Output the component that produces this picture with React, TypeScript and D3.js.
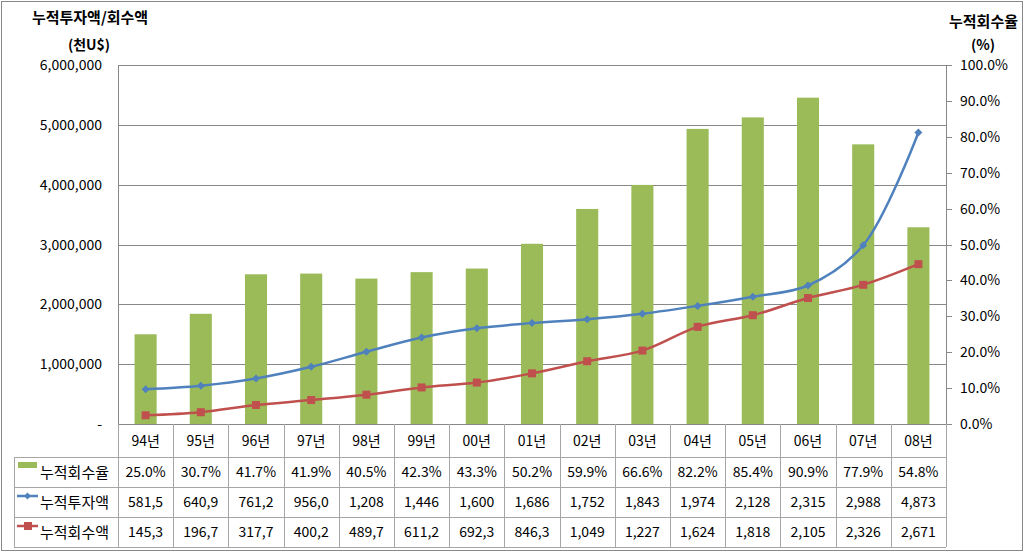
import React from "react";
import * as d3 from "d3";

const categories = ["94년", "95년", "96년", "97년", "98년", "99년", "00년", "01년", "02년", "03년", "04년", "05년", "06년", "07년", "08년"];
const recoveryRate = [25.0, 30.7, 41.7, 41.9, 40.5, 42.3, 43.3, 50.2, 59.9, 66.6, 82.2, 85.4, 90.9, 77.9, 54.8];
const investment = [581500, 640900, 761200, 956000, 1208000, 1446000, 1600000, 1686000, 1752000, 1843000, 1974000, 2128000, 2315000, 2988000, 4873000];
const recovered = [145300, 196700, 317700, 400200, 489700, 611200, 692300, 846300, 1049000, 1227000, 1624000, 1818000, 2105000, 2326000, 2671000];
const rateLabels = ["25.0%", "30.7%", "41.7%", "41.9%", "40.5%", "42.3%", "43.3%", "50.2%", "59.9%", "66.6%", "82.2%", "85.4%", "90.9%", "77.9%", "54.8%"];
const investLabels = ["581,5", "640,9", "761,2", "956,0", "1,208", "1,446", "1,600", "1,686", "1,752", "1,843", "1,974", "2,128", "2,315", "2,988", "4,873"];
const recoveredLabels = ["145,3", "196,7", "317,7", "400,2", "489,7", "611,2", "692,3", "846,3", "1,049", "1,227", "1,624", "1,818", "2,105", "2,326", "2,671"];
const leftTicks = [0, 1000000, 2000000, 3000000, 4000000, 5000000, 6000000];
const leftTickLabels = ["-", "1,000,000", "2,000,000", "3,000,000", "4,000,000", "5,000,000", "6,000,000"];
const rightTicks = [0, 10, 20, 30, 40, 50, 60, 70, 80, 90, 100];
const seriesNames = ["누적회수율", "누적투자액", "누적회수액"];

const FONT = "'Noto Sans CJK KR', 'Noto Sans', sans-serif";
const GREEN = "#9BBB59";
const BLUE = "#4F81BD";
const RED = "#C0504D";
const GRID = "#888888";
const TGRID = "#A6A6A6";

export default function App() {
  const W = 1024, H = 553;
  const left = 118, right = 946, top = 65, bottom = 424;
  const x = d3.scaleBand<string>().domain(categories).range([left, right]);
  const yL = d3.scaleLinear().domain([0, 6000000]).range([bottom, top]);
  const yR = d3.scaleLinear().domain([0, 100]).range([bottom, top]);
  const bw = x.bandwidth();
  const barW = bw * 0.4;
  const cx = (c: string) => (x(c) as number) + bw / 2;

  const line = d3
    .line<number>()
    .x((_, i) => cx(categories[i]))
    .y((d) => yL(d))
    .curve(d3.curveCatmullRom.alpha(0.5));

  const rowTops = [457, 487, 517];
  const rowH = 30;
  const tableLeft = 14;
  const tableBottom = 547;

  const diamond = (px: number, py: number, r: number) =>
    `M${px},${py - r}L${px + r},${py}L${px},${py + r}L${px - r},${py}Z`;

  return (
    <svg width={W} height={H} style={{ position: "absolute", left: 0, top: 0, background: "#fff" }} fontFamily={FONT}>
      <rect x={1.5} y={1.5} width={W - 3} height={H - 4} fill="#fff" stroke={GRID} strokeWidth={1} />

      {/* titles */}
      <text x={90} y={23} textAnchor="middle" fontSize={15} fontWeight="bold" fill="#000">누적투자액/회수액</text>
      <text x={89} y={50} textAnchor="middle" fontSize={14} fontWeight="bold" fill="#000">(천U$)</text>
      <text x={1018} y={27} textAnchor="end" fontSize={15} fontWeight="bold" fill="#000">누적회수율</text>
      <text x={983} y={50} textAnchor="middle" fontSize={14} fontWeight="bold" fill="#000">(%)</text>

      {/* gridlines */}
      {leftTicks.map((t) => (
        <line key={"g" + t} x1={left} x2={right} y1={Math.round(yL(t)) + 0.5} y2={Math.round(yL(t)) + 0.5} stroke={GRID} strokeWidth={1} />
      ))}
      {leftTicks.map((t, i) => (
        <text key={"lt" + t} x={102} y={yL(t) + 5} textAnchor="end" fontSize={14} fill="#000">{leftTickLabels[i]}</text>
      ))}
      {/* axes */}
      <line x1={left + 0.5} x2={left + 0.5} y1={top} y2={bottom} stroke={GRID} />
      <line x1={right + 0.5} x2={right + 0.5} y1={top} y2={bottom} stroke={GRID} />
      {rightTicks.map((t) => (
        <g key={"rt" + t}>
          <line x1={right} x2={right + 6} y1={Math.round(yR(t)) + 0.5} y2={Math.round(yR(t)) + 0.5} stroke={GRID} />
          <text x={960} y={yR(t) + 5} fontSize={14} fill="#000">{d3.format(".1f")(t)}%</text>
        </g>
      ))}

      {/* bars */}
      {recoveryRate.map((v, i) => (
        <rect key={"b" + i} x={cx(categories[i]) - barW / 2} y={yR(v)} width={barW} height={bottom - yR(v)} fill={GREEN} />
      ))}

      {/* lines */}
      <path d={line(investment) || ""} fill="none" stroke={BLUE} strokeWidth={2.5} />
      <path d={line(recovered) || ""} fill="none" stroke={RED} strokeWidth={2.5} />
      {investment.map((v, i) => (
        <path key={"d" + i} d={diamond(cx(categories[i]), yL(v), 4)} fill={BLUE} />
      ))}
      {recovered.map((v, i) => (
        <rect key={"s" + i} x={cx(categories[i]) - 4} y={yL(v) - 4} width={8} height={8} fill={RED} />
      ))}

      {/* data table */}
      <line x1={left} x2={right} y1={bottom + 0.5} y2={bottom + 0.5} stroke={GRID} />
      {[...categories.map((c) => x(c) as number), right].map((xx, i) => (
        <line key={"v" + i} x1={Math.round(xx) + 0.5} x2={Math.round(xx) + 0.5} y1={bottom} y2={tableBottom} stroke={TGRID} />
      ))}
      {rowTops.map((ry) => (
        <line key={"h" + ry} x1={tableLeft} x2={right} y1={ry + 0.5} y2={ry + 0.5} stroke={TGRID} />
      ))}
      <line x1={tableLeft} x2={right} y1={tableBottom + 0.5} y2={tableBottom + 0.5} stroke={TGRID} />
      <line x1={tableLeft + 0.5} x2={tableLeft + 0.5} y1={rowTops[0]} y2={tableBottom} stroke={TGRID} />

      {categories.map((c) => (
        <text key={"c" + c} x={cx(c)} y={446} textAnchor="middle" fontSize={14} fill="#000">{c}</text>
      ))}
      {[rateLabels, investLabels, recoveredLabels].map((labels, r) =>
        labels.map((lab, i) => (
          <text key={"t" + r + "-" + i} x={cx(categories[i])} y={rowTops[r] + rowH / 2 + 5} textAnchor="middle" fontSize={14} fill="#000">{lab}</text>
        ))
      )}

      {/* legend keys */}
      <rect x={18} y={462} width={19} height={6} fill={GREEN} />
      <line x1={17} x2={38} y1={496} y2={496} stroke={BLUE} strokeWidth={2.5} />
      <path d={diamond(27.5, 496, 3.5)} fill={BLUE} />
      <line x1={17} x2={38} y1={526} y2={526} stroke={RED} strokeWidth={2.5} />
      <rect x={24} y={522} width={8} height={8} fill={RED} />
      {seriesNames.map((n, r) => (
        <text key={"n" + r} x={40} y={rowTops[r] + rowH / 2 + 6} fontSize={15} fill="#000">{n}</text>
      ))}
    </svg>
  );
}
